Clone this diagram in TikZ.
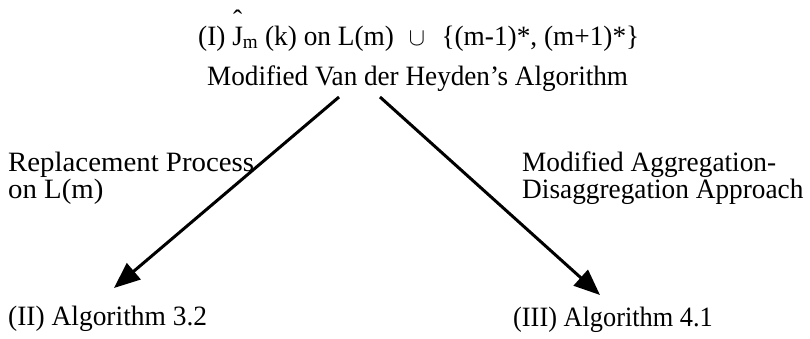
\documentclass[tikz,border=0pt]{standalone}
\usepackage{fontspec}
\usepackage{graphicx}
\setmainfont{Liberation Serif}
\usetikzlibrary{arrows.meta}
\newcommand{\sx}[2]{\scalebox{#1}[1]{#2}}
\newcommand{\twolines}[2]{\begin{tabular}[t]{@{}l@{}}#1\\#2\end{tabular}}
\newcommand{\hatJ}{\makebox[0pt][l]{\hspace{0.03em}\raisebox{0.56em}{\symbol{"02C6}}}J}
\begin{document}
\begin{tikzpicture}[x=1pt,y=-1pt,
  txt/.style={inner sep=0pt,font=\fontsize{28}{27}\selectfont},
  conn/.style={line width=3pt,-{Triangle[length=26pt,width=21pt]}}]
\useasboundingbox (0,0) rectangle (810,338);
\node[txt,anchor=base west] (t1) at (198,45) {\sx{0.975}{(I) \hatJ\textsubscript{m} (k) on L(m)\hspace{0.3em} $\cup$\hspace{0.35em} \{(m-1)*, (m+1)*\}}};
\node[txt,anchor=base west] (t2) at (207,85) {\sx{0.97}{Modified Van der Heyden\symbol{"0027}s Algorithm}};
\node[txt,anchor=base west] (l1) at (8,171) {\sx{1.03}{\twolines{Replacement Process}{on L(m)}}};
\node[txt,anchor=base west] (r1) at (522,171) {\sx{0.975}{\twolines{Modified Aggregation-}{Disaggregation Approach}}};
\node[txt,anchor=base west] (a2) at (8,325) {\sx{0.98}{(II) Algorithm 3.2}};
\node[txt,anchor=base west] (a3) at (513,326) {\sx{0.94}{(III) Algorithm 4.1}};
\coordinate (ls) at (339,97);
\coordinate (le) at (114,288);
\coordinate (rs) at (380,97);
\coordinate (re) at (600,295);
\draw[conn] (ls) -- (le);
\draw[conn] (rs) -- (re);
\end{tikzpicture}
\end{document}
